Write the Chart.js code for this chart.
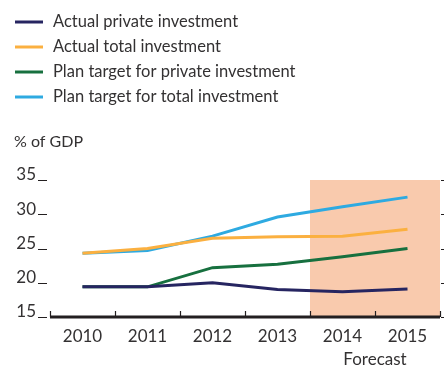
<!DOCTYPE html>
<html>
<head>
<meta charset="utf-8">
<script src="https://cdn.jsdelivr.net/npm/chart.js@4.4.1/dist/chart.umd.min.js"></script>
<style>
  html, body { margin: 0; padding: 0; background: #fff; }
  #wrap { width: 445px; height: 370px; position: relative; }
</style>
</head>
<body>
<div id="wrap"><canvas id="chart" width="445" height="370"></canvas></div>
<script>
const years = ['2010', '2011', '2012', '2013', '2014', '2015'];
const actualPrivate = [19.4, 19.4, 20.0, 19.0, 18.7, 19.1];
const actualTotal = [24.3, 25.0, 26.5, 26.7, 26.8, 27.8];
const planPrivate = [19.4, 19.4, 22.2, 22.7, 23.8, 25.0];
const planTotal = [24.3, 24.7, 26.8, 29.6, 31.1, 32.5];
const yTicks = [15, 20, 25, 30, 35];
const forecastYears = ['2014', '2015'];

const FONT = 'Lato, "Open Sans", sans-serif';
const INK = '#333132';

// forecast box, axis line and ticks, legend, extra labels
const decor = {
    id: 'decor',
    beforeDatasetsDraw(chart) {
        const { ctx, scales: { x, y } } = chart;
        const i0 = years.indexOf(forecastYears[0]);
        const i1 = years.indexOf(forecastYears[forecastYears.length - 1]);
        const left = x.getPixelForValue(i0 - 0.5);
        const right = x.getPixelForValue(i1 + 0.5);
        ctx.save();
        ctx.fillStyle = '#f9caad';
        ctx.fillRect(left, y.getPixelForValue(35), right - left, y.getPixelForValue(15) - y.getPixelForValue(35));
        ctx.restore();
    },
    afterDraw(chart) {
        const { ctx, chartArea, scales: { x, y } } = chart;
        ctx.save();
        const base = y.getPixelForValue(15);
        ctx.strokeStyle = '#231f20';
        // axis line
        ctx.lineWidth = 3;
        ctx.beginPath();
        ctx.moveTo(chartArea.left, base);
        ctx.lineTo(chartArea.right, base);
        ctx.stroke();
        // upward ticks at category boundaries
        ctx.lineWidth = 1.2;
        for (let i = 0; i <= years.length; i++) {
            const px = Math.round(x.getPixelForValue(i - 0.5)) + 0.5;
            ctx.beginPath();
            ctx.moveTo(px, base);
            ctx.lineTo(px, base - 6);
            ctx.stroke();
        }
        // y ticks left and right
        yTicks.forEach(v => {
            const py = Math.round(y.getPixelForValue(v)) + 0.5;
            ctx.beginPath();
            ctx.moveTo(chartArea.left - 12, py);
            ctx.lineTo(chartArea.left - 3, py);
            ctx.moveTo(chartArea.right + 1, py);
            ctx.lineTo(chartArea.right + 4, py);
            ctx.stroke();
        });
        // "Forecast" label
        const i0 = years.indexOf(forecastYears[0]);
        const i1 = years.indexOf(forecastYears[forecastYears.length - 1]);
        ctx.fillStyle = INK;
        ctx.font = '17px ' + FONT;
        ctx.textAlign = 'center';
        ctx.textBaseline = 'middle';
        ctx.fillText('Forecast', (x.getPixelForValue(i0 - 0.5) + x.getPixelForValue(i1 + 0.5)) / 2, 360);
        // unit label
        ctx.font = '16px ' + FONT;
        ctx.textAlign = 'left';
        ctx.fillText('% of GDP', 14, 142);
        // legend
        ctx.font = '16.5px ' + FONT;
        chart.data.datasets.forEach((ds, i) => {
            const ly = 22 + i * 25;
            ctx.strokeStyle = ds.borderColor;
            ctx.lineWidth = 3;
            ctx.beginPath();
            ctx.moveTo(15, ly);
            ctx.lineTo(43, ly);
            ctx.stroke();
            ctx.fillStyle = INK;
            ctx.fillText(ds.label, 53, ly);
        });
        ctx.restore();
    }
};

new Chart(document.getElementById('chart'), {
    type: 'line',
    data: {
        labels: years,
        datasets: [
            { label: 'Actual private investment', data: actualPrivate, borderColor: '#262561' },
            { label: 'Actual total investment', data: actualTotal, borderColor: '#fbb040' },
            { label: 'Plan target for private investment', data: planPrivate, borderColor: '#17703f' },
            { label: 'Plan target for total investment', data: planTotal, borderColor: '#2eaae1' }
        ]
    },
    options: {
        responsive: false,
        animation: false,
        layout: { padding: { top: 180, right: 5, left: 0, bottom: 0 } },
        elements: {
            line: { borderWidth: 3, tension: 0, fill: false },
            point: { radius: 0 }
        },
        plugins: {
            legend: { display: false },
            tooltip: { enabled: false }
        },
        scales: {
            x: {
                offset: true,
                border: { display: false },
                grid: { display: false, drawTicks: false },
                ticks: { color: INK, font: { family: FONT, size: 17 }, padding: 9 },
                afterFit: s => { s.height = 53; }
            },
            y: {
                min: 15,
                max: 35,
                afterBuildTicks: s => { s.ticks = yTicks.map(v => ({ value: v })); },
                border: { display: false },
                grid: { display: false, drawTicks: false },
                ticks: { color: INK, font: { family: FONT, size: 17 }, padding: 14, labelOffset: -5 },
                afterFit: s => { s.width = 50; }
            }
        }
    },
    plugins: [decor]
});
</script>
</body>
</html>
